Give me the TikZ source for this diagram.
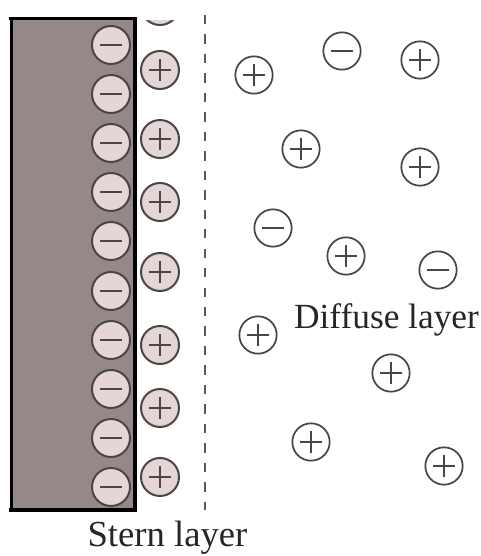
\documentclass[tikz,border=0pt]{standalone}
\usepackage{fontspec}
\setmainfont{Liberation Serif}
\definecolor{plate}{HTML}{958888}
\definecolor{ionfill}{HTML}{E6D5D5}
\definecolor{ionline}{HTML}{4A4646}
\tikzset{
  x=0.75pt,y=-0.75pt,
  ionbase/.style={circle,draw=ionline,line width=1.5pt,minimum size=28.5pt,inner sep=0pt,outer sep=0pt},
  boundion/.style={ionbase,fill=ionfill},
  freeion/.style={ionbase,fill=white,minimum size=28pt,line width=1.3pt},
  minussign/.style={path picture={\draw[ionline,line width=1.4pt] ([xshift=-8pt]path picture bounding box.center) -- ([xshift=8pt]path picture bounding box.center);}},
  plussign/.style={path picture={\draw[ionline,line width=1.4pt] ([xshift=-8pt]path picture bounding box.center) -- ([xshift=8pt]path picture bounding box.center) ([yshift=-8pt]path picture bounding box.center) -- ([yshift=8pt]path picture bounding box.center);}},
  label text/.style={text=black!85,inner sep=0pt},
}
\begin{document}
\begin{tikzpicture}
\useasboundingbox (0,0) rectangle (480,556);
\fill[plate] (11.5,18.5) rectangle (135,510);
\draw[black,line width=2.4pt] (9,18.5) -- (135,18.5) -- (135,510) -- (9,510);
\draw[black,line width=2.4pt] (11.5,18.5) -- (11.5,510);
\coordinate (dashtop) at (205,15);
\coordinate (dashbot) at (205,510);
\draw[ionline!90,line width=2.1pt,dash pattern=on 7pt off 7.6pt] (dashtop) -- (dashbot);
% clipped ion at the top
\begin{scope}
\clip (130,21) rectangle (190,40);
\node[boundion,plussign] (ptop) at (160,6) {};
\end{scope}
% negative ions on the plate
\node[boundion,minussign] (m1) at (111,45) {};
\node[boundion,minussign] (m2) at (111,94) {};
\node[boundion,minussign] (m3) at (111,143) {};
\node[boundion,minussign] (m4) at (111,192) {};
\node[boundion,minussign] (m5) at (111,241) {};
\node[boundion,minussign] (m6) at (111,291) {};
\node[boundion,minussign] (m7) at (111,340) {};
\node[boundion,minussign] (m8) at (111,389) {};
\node[boundion,minussign] (m9) at (111,438) {};
\node[boundion,minussign] (m10) at (111,487) {};
% Stern layer
\node[boundion,plussign] (p1) at (160,70) {};
\node[boundion,plussign] (p2) at (160,139) {};
\node[boundion,plussign] (p3) at (160,202) {};
\node[boundion,plussign] (p4) at (160,272) {};
\node[boundion,plussign] (p5) at (160,345) {};
\node[boundion,plussign] (p6) at (160,408) {};
\node[boundion,plussign] (p7) at (160,477) {};
% Diffuse layer
\node[freeion,minussign] (f1) at (342,51) {};
\node[freeion,plussign] (f2) at (420,60) {};
\node[freeion,plussign] (f3) at (254,75) {};
\node[freeion,plussign] (f4) at (301,149) {};
\node[freeion,plussign] (f5) at (420,167) {};
\node[freeion,minussign] (f6) at (273,228) {};
\node[freeion,plussign] (f7) at (346,256) {};
\node[freeion,minussign] (f8) at (438,270) {};
\node[freeion,plussign] (f9) at (258,335) {};
\node[freeion,plussign] (f10) at (391,373) {};
\node[freeion,plussign] (f11) at (311,442) {};
\node[freeion,plussign] (f12) at (444,466) {};
\node[label text,font=\fontsize{26.5pt}{30pt}\selectfont] (diffuse) at (386.5,320) {Diffuse layer};
\node[label text,font=\fontsize{27.5pt}{32pt}\selectfont] (stern) at (167.5,538) {Stern layer};
\end{tikzpicture}
\end{document}
